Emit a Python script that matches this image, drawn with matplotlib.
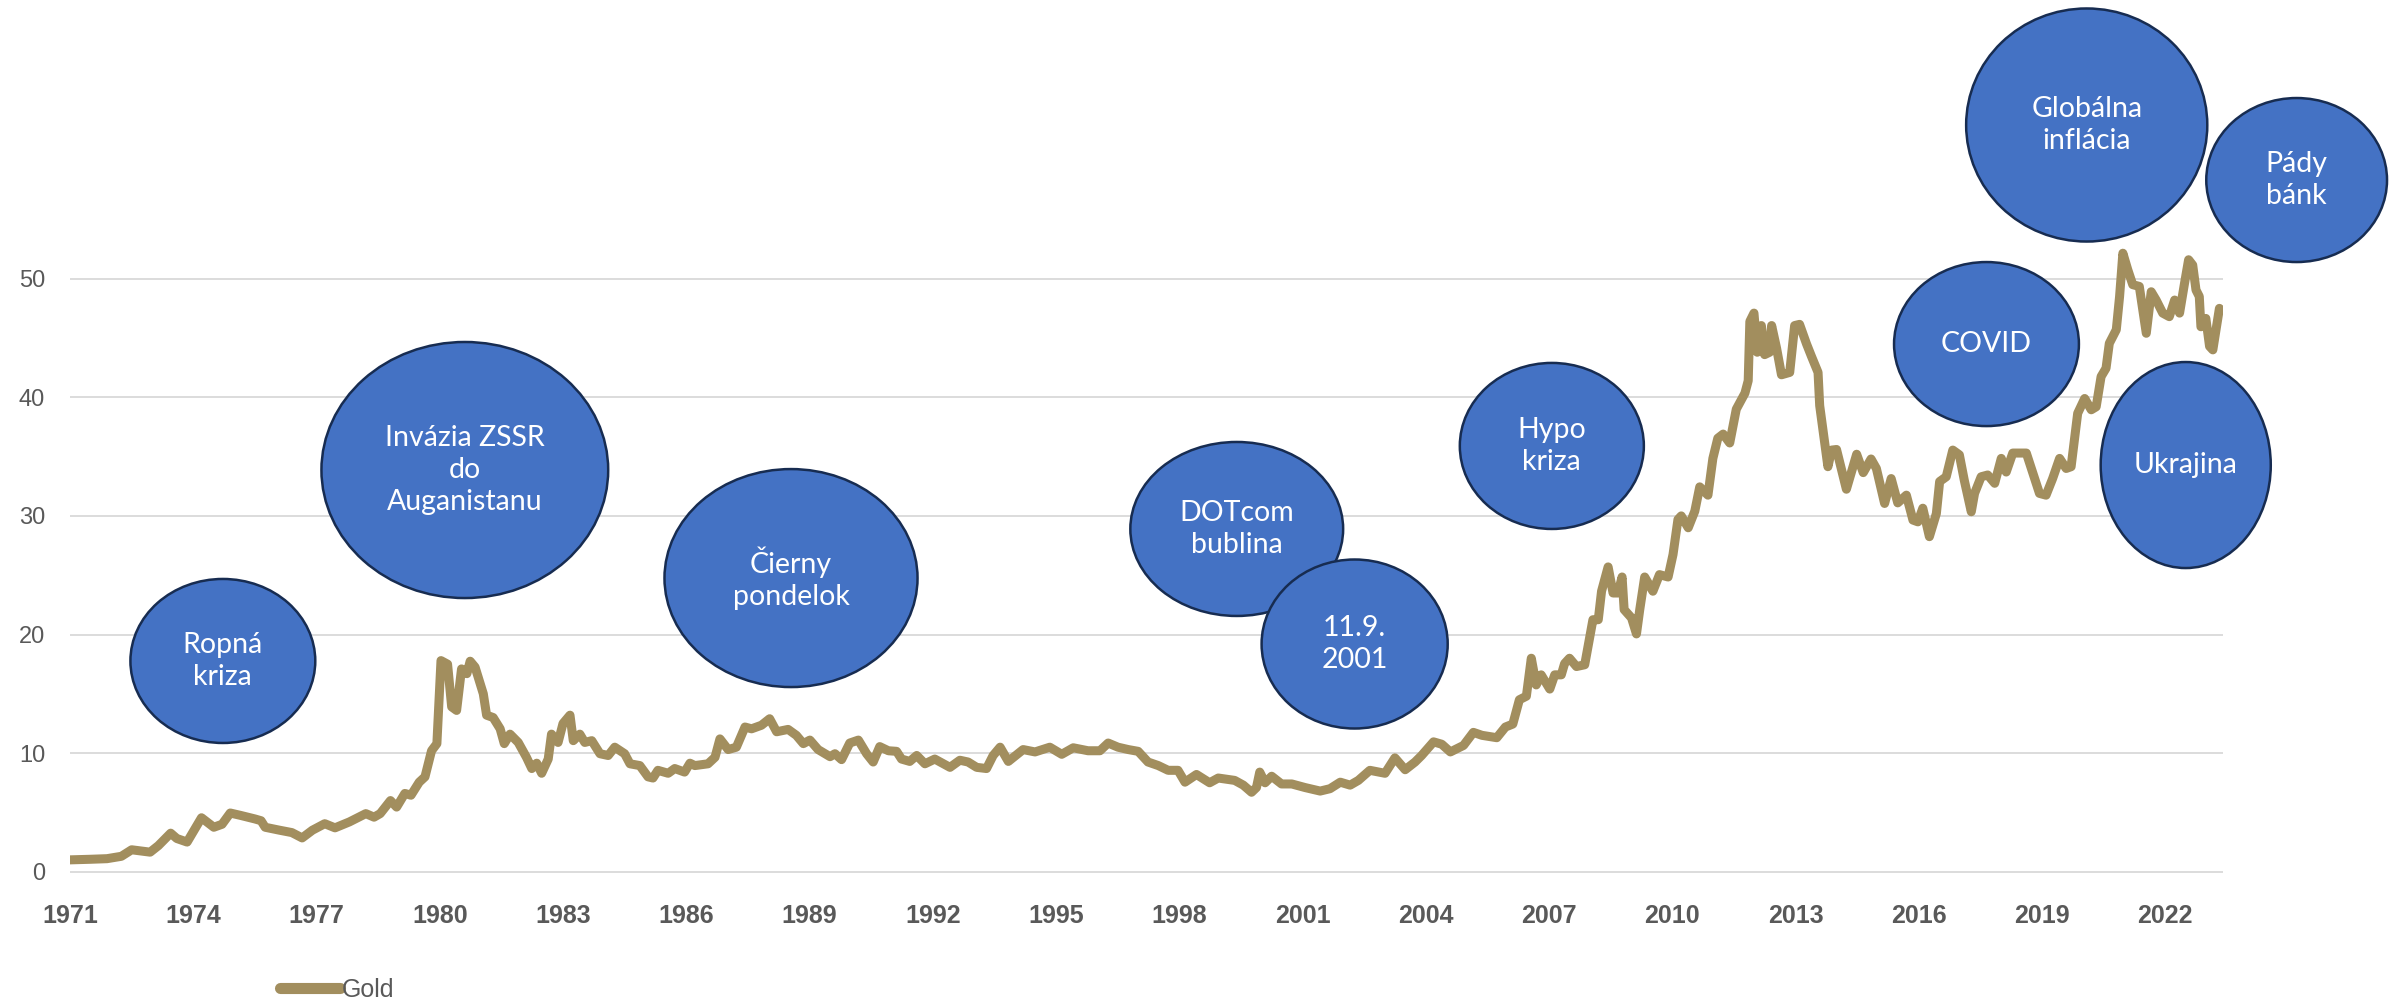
import matplotlib
matplotlib.use('Agg')
from matplotlib import pyplot as plt
from matplotlib.patches import Ellipse
from matplotlib.lines import Line2D

# gold series (decimal year, value)
years = [
    1971.0, 1971.5, 1971.9, 1972.25, 1972.5, 1972.95, 1973.15, 1973.45, 1973.6, 1973.85,
    1974.2, 1974.5, 1974.7, 1974.9, 1975.15, 1975.5, 1975.65, 1975.75, 1976.1, 1976.4,
    1976.65, 1976.9, 1977.2, 1977.45, 1977.8, 1978.2, 1978.4, 1978.55, 1978.8, 1978.95,
    1979.15, 1979.3, 1979.5, 1979.64, 1979.8, 1979.93, 1980.03, 1980.19, 1980.29, 1980.41,
    1980.53, 1980.66, 1980.74, 1980.86, 1981.06, 1981.14, 1981.3, 1981.47, 1981.57, 1981.71,
    1981.91, 1982.11, 1982.24, 1982.36, 1982.48, 1982.64, 1982.72, 1982.88, 1983.0, 1983.17,
    1983.25, 1983.41, 1983.53, 1983.7, 1983.9, 1984.1, 1984.26, 1984.5, 1984.63, 1984.87,
    1985.07, 1985.19, 1985.31, 1985.56, 1985.72, 1985.96, 1986.09, 1986.21, 1986.53, 1986.7,
    1986.82, 1987.02, 1987.22, 1987.43, 1987.59, 1987.83, 1988.03, 1988.2, 1988.48, 1988.68,
    1988.85, 1989.01, 1989.21, 1989.5, 1989.62, 1989.78, 1989.98, 1990.19, 1990.39, 1990.55,
    1990.71, 1990.92, 1991.12, 1991.24, 1991.44, 1991.61, 1991.81, 1992.05, 1992.42, 1992.66,
    1992.86, 1993.07, 1993.31, 1993.47, 1993.64, 1993.84, 1994.2, 1994.49, 1994.85, 1995.14,
    1995.42, 1995.78, 1996.07, 1996.27, 1996.51, 1996.76, 1997.0, 1997.24, 1997.49, 1997.73,
    1997.97, 1998.14, 1998.42, 1998.74, 1998.95, 1999.35, 1999.56, 1999.76, 1999.88, 1999.96,
    2000.09, 2000.25, 2000.49, 2000.74, 2001.06, 2001.43, 2001.67, 2001.92, 2002.16, 2002.36,
    2002.64, 2003.01, 2003.25, 2003.5, 2003.74, 2003.9, 2004.19, 2004.39, 2004.6, 2004.92,
    2005.16, 2005.37, 2005.73, 2005.94, 2006.12, 2006.28, 2006.45, 2006.57, 2006.69, 2006.81,
    2007.02, 2007.14, 2007.3, 2007.38, 2007.5, 2007.67, 2007.87, 2008.07, 2008.2, 2008.28,
    2008.44, 2008.56, 2008.68, 2008.78, 2008.83, 2009.01, 2009.13, 2009.21, 2009.33, 2009.53,
    2009.69, 2009.9, 2010.02, 2010.14, 2010.22, 2010.39, 2010.55, 2010.67, 2010.87, 2010.99,
    2011.11, 2011.24, 2011.4, 2011.56, 2011.77, 2011.85, 2011.89, 2011.99, 2012.07, 2012.17,
    2012.25, 2012.37, 2012.42, 2012.54, 2012.66, 2012.86, 2012.98, 2013.1, 2013.27, 2013.39,
    2013.55, 2013.59, 2013.79, 2013.88, 2014.0, 2014.24, 2014.49, 2014.65, 2014.84, 2014.97,
    2015.17, 2015.33, 2015.49, 2015.7, 2015.86, 2015.98, 2016.1, 2016.26, 2016.43, 2016.51,
    2016.67, 2016.83, 2016.99, 2017.11, 2017.28, 2017.36, 2017.52, 2017.68, 2017.85, 2018.01,
    2018.13, 2018.29, 2018.41, 2018.62, 2018.78, 2018.94, 2019.1, 2019.26, 2019.43, 2019.59,
    2019.71, 2019.87, 2020.04, 2020.2, 2020.32, 2020.44, 2020.56, 2020.64, 2020.81, 2020.89,
    2020.97, 2021.09, 2021.21, 2021.37, 2021.54, 2021.66, 2021.78, 2021.94, 2022.1, 2022.23,
    2022.35, 2022.47, 2022.57, 2022.67, 2022.75, 2022.83, 2022.87, 2022.99, 2023.08, 2023.16,
    2023.32,
]
gold = [
    1.0, 1.05, 1.1, 1.3, 1.85, 1.65, 2.2, 3.25, 2.8, 2.5,
    4.55, 3.75, 4.0, 4.95, 4.75, 4.45, 4.3, 3.75, 3.5, 3.3,
    2.85, 3.5, 4.05, 3.7, 4.2, 4.9, 4.6, 4.9, 6.0, 5.45,
    6.6, 6.45, 7.55, 8.0, 10.2, 10.8, 17.8, 17.5, 13.9, 13.6,
    17.1, 16.7, 17.75, 17.25, 15.0, 13.2, 13.0, 12.05, 10.8, 11.6,
    10.9, 9.65, 8.7, 9.15, 8.3, 9.5, 11.6, 10.9, 12.5, 13.2,
    11.05, 11.6, 10.9, 11.05, 9.95, 9.8, 10.5, 9.95, 9.1, 8.95,
    8.0, 7.9, 8.55, 8.3, 8.7, 8.4, 9.15, 8.95, 9.1, 9.65,
    11.2, 10.3, 10.5, 12.2, 12.05, 12.35, 12.9, 11.8, 12.0, 11.5,
    10.8, 11.1, 10.3, 9.7, 9.95, 9.45, 10.85, 11.1, 9.95, 9.25,
    10.55, 10.2, 10.15, 9.5, 9.3, 9.8, 9.1, 9.5, 8.8, 9.4,
    9.25, 8.8, 8.7, 9.8, 10.5, 9.3, 10.3, 10.1, 10.5, 9.9,
    10.45, 10.2, 10.2, 10.85, 10.5, 10.3, 10.15, 9.25, 8.95, 8.55,
    8.55, 7.55, 8.2, 7.5, 7.9, 7.7, 7.3, 6.7, 7.1, 8.4,
    7.5, 8.05, 7.4, 7.4, 7.1, 6.8, 7.0, 7.55, 7.3, 7.7,
    8.55, 8.3, 9.6, 8.6, 9.25, 9.8, 10.95, 10.75, 10.1, 10.65,
    11.75, 11.5, 11.3, 12.2, 12.45, 14.5, 14.8, 18.0, 15.75, 16.6,
    15.4, 16.6, 16.6, 17.55, 18.0, 17.3, 17.45, 21.25, 21.25, 23.65,
    25.7, 23.5, 23.5, 24.85, 22.1, 21.4, 20.05, 22.1, 24.85, 23.65,
    25.05, 24.85, 26.75, 29.7, 30.0, 29.0, 30.4, 32.45, 31.75, 34.85,
    36.55, 36.9, 36.15, 39.0, 40.35, 41.4, 46.4, 47.1, 43.8, 46.05,
    43.6, 43.8, 46.05, 44.15, 41.9, 42.1, 46.05, 46.15, 44.5, 43.45,
    42.1, 39.3, 34.15, 35.55, 35.6, 32.25, 35.2, 33.65, 34.8, 34.0,
    31.05, 33.15, 31.1, 31.75, 29.65, 29.5, 30.65, 28.25, 30.2, 32.9,
    33.3, 35.55, 35.15, 33.0, 30.35, 31.9, 33.3, 33.45, 32.75, 34.85,
    33.7, 35.3, 35.3, 35.3, 33.6, 31.9, 31.75, 33.15, 34.85, 34.0,
    34.15, 38.65, 39.9, 38.95, 39.2, 41.75, 42.45, 44.55, 45.7, 48.5,
    52.15, 50.75, 49.5, 49.35, 45.4, 48.9, 48.2, 47.1, 46.8, 48.2,
    47.1, 49.6, 51.6, 51.15, 49.05, 48.5, 45.95, 46.65, 44.3, 44.0,
    47.5,
]

xtick_years = list(range(1971, 2023, 3))
ytick_vals = [0, 10, 20, 30, 40, 50]

# event bubbles: label, centre (year, value), width (years), height (value units)
events = ['Ropná\nkriza', 'Invázia ZSSR\ndo\nAuganistanu', 'Čierny\npondelok',
          'DOTcom\nbublina', '11.9.\n2001', 'Hypo\nkriza', 'COVID',
          'Globálna\ninflácia', 'Pády\nbánk', 'Ukrajina']
ev_x = [1974.72, 1980.61, 1988.55, 1999.40, 2002.27, 2007.07, 2017.65, 2020.09, 2025.20, 2022.50]
ev_y = [17.77, 33.87, 24.76, 28.90, 19.20, 35.90, 44.49, 62.96, 58.32, 34.29]
ev_w = [4.50, 6.98, 6.16, 5.18, 4.53, 4.48, 4.50, 5.87, 4.40, 4.14]
ev_h = [13.83, 21.59, 18.38, 14.67, 14.25, 14.0, 13.83, 19.65, 13.83, 17.37]

gray = '#595959'
gold_col = '#A28E5E'

fig = plt.figure(figsize=(23.9, 10.01), dpi=100)
ax = fig.add_axes([0.0293, 0.1173, 0.9007, 0.8827])

ax.plot(years, gold, color=gold_col, lw=6.5, solid_joinstyle='round',
        solid_capstyle='round', zorder=3)

for lab, x, y, w, h in zip(events, ev_x, ev_y, ev_w, ev_h):
    ax.add_patch(Ellipse((x, y), w, h, facecolor='#4472C4', edgecolor='#172C51',
                         lw=1.8, zorder=5, clip_on=False))
    ax.text(x, y, lab, ha='center', va='center', color='white', fontsize=20.5,
            family='Lato', linespacing=1.28, zorder=6, clip_on=False)

ax.set_xlim(1971.0, 2023.4)
ax.set_ylim(-1, 73.5)
ax.set_xticks(xtick_years)
ax.set_xticklabels([str(y) for y in xtick_years], fontsize=18, fontweight='bold',
                   color=gray, family='Liberation Sans')
ax.set_yticks(ytick_vals)
ax.set_yticklabels([str(v) for v in ytick_vals], fontsize=17, color=gray,
                   family='Liberation Sans')
ax.tick_params(axis='x', length=0, pad=15)
ax.tick_params(axis='y', length=0, pad=18)
ax.grid(axis='y', color='#D9D9D9', lw=1.3, zorder=0)
ax.grid(axis='x', visible=False)
for s in ax.spines.values():
    s.set_visible(False)

handle = Line2D([], [], color=gold_col, lw=8, solid_capstyle='round')
fig.legend([handle], ['Gold'], loc='center left', bbox_to_anchor=(0.117, 0.011),
           frameon=False, borderpad=0, borderaxespad=0, handlelength=2.4,
           handletextpad=0.1, prop={'family': 'Liberation Sans', 'size': 18},
           labelcolor=gray)

fig.savefig('out.png', dpi=100)
